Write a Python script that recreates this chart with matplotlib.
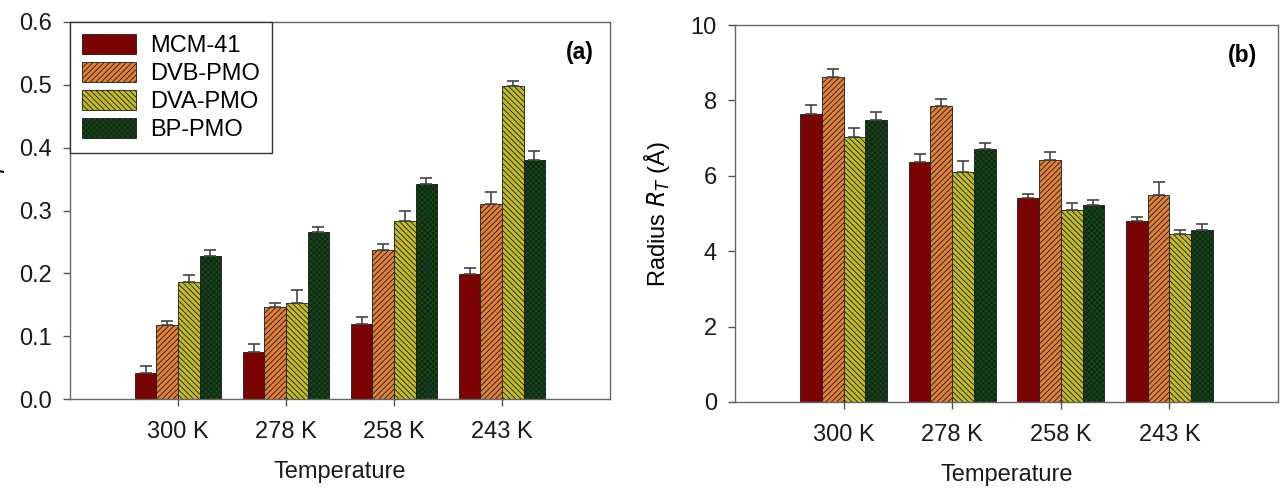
import numpy as np
import matplotlib.pyplot as plt

plt.rcParams['font.family'] = ['Liberation Sans', 'DejaVu Sans']
plt.rcParams['hatch.linewidth'] = 0.6

# data
temps = ["300 K", "278 K", "258 K", "243 K"]
materials = ["MCM-41", "DVB-PMO", "DVA-PMO", "BP-PMO"]

frac_mcm = [0.042, 0.075, 0.120, 0.199]
frac_dvb = [0.117, 0.146, 0.237, 0.311]
frac_dva = [0.187, 0.153, 0.284, 0.498]
frac_bp = [0.227, 0.265, 0.342, 0.380]
frac_err_mcm = [0.011, 0.013, 0.011, 0.009]
frac_err_dvb = [0.007, 0.006, 0.010, 0.018]
frac_err_dva = [0.011, 0.021, 0.015, 0.008]
frac_err_bp = [0.010, 0.008, 0.009, 0.014]

rad_mcm = [7.64, 6.36, 5.40, 4.81]
rad_dvb = [8.63, 7.85, 6.41, 5.50]
rad_dva = [7.04, 6.10, 5.09, 4.45]
rad_bp = [7.48, 6.71, 5.22, 4.56]
rad_err_mcm = [0.23, 0.21, 0.13, 0.11]
rad_err_dvb = [0.20, 0.18, 0.22, 0.34]
rad_err_dva = [0.24, 0.30, 0.20, 0.12]
rad_err_bp = [0.21, 0.17, 0.14, 0.17]

colors = ["#7a0303", "#e0803a", "#c2bb2a", "#0f4a14"]
hatches = [None, "//////", "\\\\\\\\\\\\", "xxxxxx"]

fs = 17
fig = plt.figure(figsize=(12.82, 4.95), dpi=100)
ax1 = fig.add_axes([70 / 1282, 96 / 495, 540 / 1282, 377 / 495])
ax2 = fig.add_axes([735 / 1282, 93 / 495, 543 / 1282, 377 / 495])


def draw(ax, vals, errs):
    x = np.arange(len(temps))
    w = 0.2
    for i in range(4):
        ax.bar(x + (i - 1.5) * w, vals[i], w, color=colors[i], hatch=hatches[i],
               edgecolor="#1a1a1a", linewidth=0.6, label=materials[i], zorder=2)
        ax.errorbar(x + (i - 1.5) * w, vals[i], yerr=[np.zeros(4), errs[i]], fmt="none",
                    ecolor="#444444", elinewidth=1.2, capsize=4.5, capthick=1.2, zorder=3)
    ax.set_xticks(x)
    ax.set_xticklabels(temps)
    ax.set_xlim(-1.0, 4.0)
    ax.tick_params(direction="out", length=5, width=1, colors="#555555",
                   labelcolor="#1a1a1a", labelsize=fs)
    ax.tick_params(axis="x", pad=11)
    ax.tick_params(axis="y", pad=8)
    for s in ax.spines.values():
        s.set_color("#666666")
        s.set_linewidth(1.0)
    ax.set_xlabel("Temperature", fontsize=fs, labelpad=13, color="#1a1a1a")


draw(ax1, [frac_mcm, frac_dvb, frac_dva, frac_bp],
     [frac_err_mcm, frac_err_dvb, frac_err_dva, frac_err_bp])
ax1.set_ylim(0, 0.6)
ax1.set_yticks(np.arange(0, 0.61, 0.1))
ax1.set_yticklabels([f"{v:.1f}" for v in np.arange(0, 0.61, 0.1)])
ax1.set_ylabel("Fraction $p$", fontsize=fs)
ax1.yaxis.set_label_coords(-0.117, 0.5)
ax1.text(0.969, 0.92, "(a)", transform=ax1.transAxes, ha="right", va="center",
         fontsize=16.5, fontweight="bold")
leg = ax1.legend(loc="upper left", borderaxespad=0, fontsize=fs, frameon=True,
                 fancybox=False, edgecolor="#333333", framealpha=1,
                 handlelength=2.3, handleheight=0.95, labelspacing=0.2,
                 handletextpad=0.6, borderpad=0.5)
leg.get_frame().set_linewidth(1.0)

draw(ax2, [rad_mcm, rad_dvb, rad_dva, rad_bp],
     [rad_err_mcm, rad_err_dvb, rad_err_dva, rad_err_bp])
ax2.set_ylim(0, 10)
ax2.set_yticks(np.arange(0, 11, 2))
ax2.set_ylabel("Radius $R_T$ (Å)", fontsize=fs)
ax2.yaxis.set_label_coords(-0.116, 0.5)
ax2.text(0.961, 0.92, "(b)", transform=ax2.transAxes, ha="right", va="center",
         fontsize=16.5, fontweight="bold")

fig.savefig("out.png", dpi=100)
